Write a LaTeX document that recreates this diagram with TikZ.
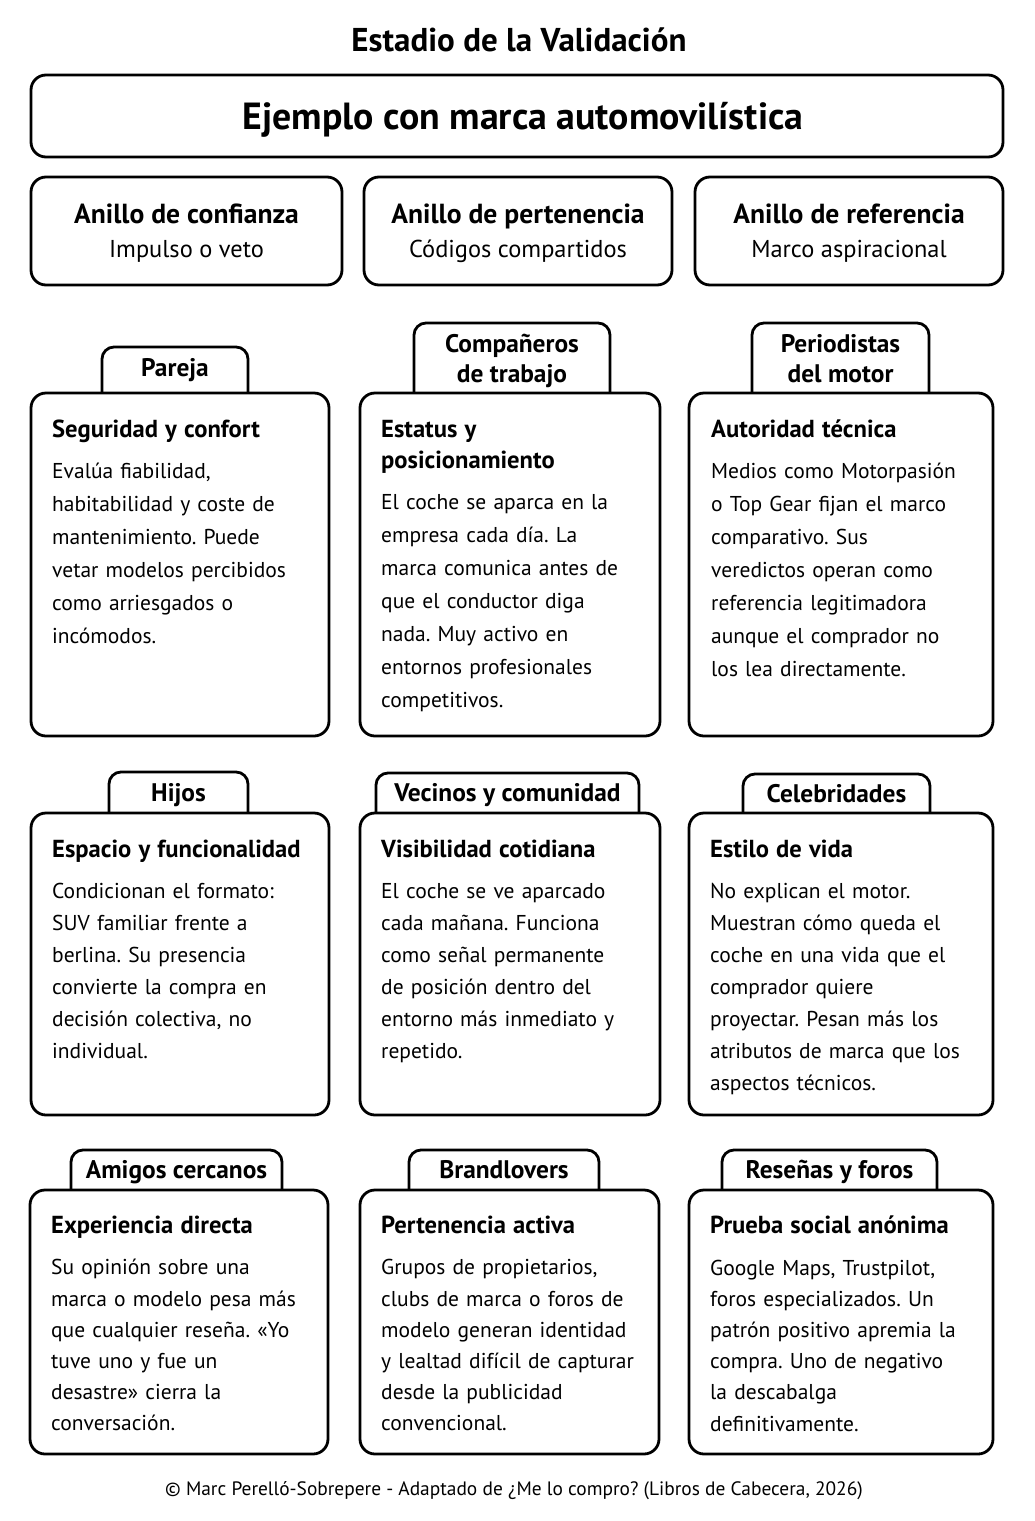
\documentclass[tikz,border=0pt]{standalone}
\usepackage{fontspec}
\setmainfont{PT Sans}
\usetikzlibrary{positioning}
\frenchspacing

\begin{document}
\begin{tikzpicture}[x=1pt, y=-1pt,
box/.style={draw=black, line width=2.8pt, rounded corners=15pt, outer sep=0pt},
ring/.style={box, minimum width=308pt, minimum height=108pt, align=center, text depth=0pt, font=\fontsize{24.4}{34}\selectfont},
card/.style={box, anchor=north west, inner sep=0pt},
tab/.style={anchor=south west, inner sep=0pt, outer sep=0pt, align=center, text height=22pt, text depth=5pt, font=\fontsize{25.4}{30}\selectfont\bfseries},
tabline/.style={line width=2.8pt, rounded corners=12pt},
cardtext/.style={anchor=north west, inner sep=0pt, text width=280pt, align=left, font=\fontsize{21.5}{33}\selectfont}
]
\useasboundingbox (0,0) rectangle (1034,1521);

\node[font=\fontsize{33}{38}\selectfont\bfseries] (title) at (519,40) {Estadio de la Validación};
\node[box, minimum width=972pt, minimum height=82pt] (example) at (517,116) {};
\node[text depth=0pt, font=\fontsize{37.8}{42}\selectfont\bfseries] (exampletxt) at ([xshift=6pt]example.center) {Ejemplo con marca automovilística};

% anillos
\node[ring, minimum width=311pt] (trust) at (186.5,231) {{\fontsize{27.6}{34}\selectfont\bfseries Anillo de confianza}\\Impulso o veto};
\node[ring] (belong) at (518,231) {{\fontsize{27.6}{34}\selectfont\bfseries Anillo de pertenencia}\\Códigos compartidos};
\node[ring] (refer) at (849,231) {{\fontsize{27.6}{34}\selectfont\bfseries Anillo de referencia}\\Marco aspiracional};

% fila 1
\node[card, minimum width=298pt, minimum height=343pt] (pareja) at (31,393) {};
\node[card, minimum width=300pt, minimum height=343pt] (colegas) at (360,393) {};
\node[card, minimum width=304pt, minimum height=343pt] (prensa) at (689,393) {};

\node[tab, text height=18pt, minimum width=146pt, minimum height=46pt] (parejatab) at ([xshift=71pt]pareja.north west) {Pareja};
\node[tab, text height=53pt, minimum width=196pt, minimum height=70pt] (colegastab) at ([xshift=54pt]colegas.north west) {Compañeros\\de trabajo};
\node[tab, text height=53pt, minimum width=177pt, minimum height=70pt] (prensatab) at ([xshift=63pt]prensa.north west) {Periodistas\\del motor};

\node[cardtext] (parejatxt) at ([shift={(21,27)}]pareja.north west) {{\fontsize{24.6}{31}\selectfont\bfseries Seguridad y confort\par}\vspace{8pt}Evalúa fiabilidad,\\habitabilidad y coste de\\mantenimiento. Puede\\vetar modelos percibidos\\como arriesgados o\\incómodos.};
\node[cardtext] (colegastxt) at ([shift={(21,27)}]colegas.north west) {{\fontsize{24.6}{31}\selectfont\bfseries Estatus y\\posicionamiento\par}\vspace{8pt}El coche se aparca en la\\empresa cada día. La\\marca comunica antes de\\que el conductor diga\\nada. Muy activo en\\entornos profesionales\\competitivos.};
\node[cardtext] (prensatxt) at ([shift={(22,27)}]prensa.north west) {{\fontsize{24.6}{31}\selectfont\bfseries Autoridad técnica\par}\vspace{8pt}Medios como Motorpasión\\o Top Gear fijan el marco\\comparativo. Sus\\veredictos operan como\\referencia legitimadora\\aunque el comprador no\\los lea directamente.};

% fila 2
\node[card, minimum width=298pt, minimum height=302pt] (hijos) at (31,813) {};
\node[card, minimum width=300pt, minimum height=302pt] (vecinos) at (360,813) {};
\node[card, minimum width=304pt, minimum height=302pt] (famosos) at (689,813) {};

\node[tab, minimum width=139pt, minimum height=41pt] (hijostab) at ([xshift=78pt]hijos.north west) {Hijos};
\node[tab, minimum width=263pt, minimum height=40pt] (vecinostab) at ([xshift=16pt]vecinos.north west) {Vecinos y comunidad};
\node[tab, minimum width=187pt, minimum height=39pt] (famosostab) at ([xshift=54pt]famosos.north west) {Celebridades};

\node[cardtext, font=\fontsize{21.5}{32}\selectfont] (hijostxt) at ([shift={(21,27)}]hijos.north west) {{\fontsize{24.6}{31}\selectfont\bfseries Espacio y funcionalidad\par}\vspace{9pt}Condicionan el formato:\\SUV familiar frente a\\berlina. Su presencia\\convierte la compra en\\decisión colectiva, no\\individual.};
\node[cardtext, font=\fontsize{21.5}{32}\selectfont] (vecinostxt) at ([shift={(21,27)}]vecinos.north west) {{\fontsize{24.6}{31}\selectfont\bfseries Visibilidad cotidiana\par}\vspace{9pt}El coche se ve aparcado\\cada mañana. Funciona\\como señal permanente\\de posición dentro del\\entorno más inmediato y\\repetido.};
\node[cardtext, font=\fontsize{21.5}{32}\selectfont] (famosostxt) at ([shift={(21,27)}]famosos.north west) {{\fontsize{24.6}{31}\selectfont\bfseries Estilo de vida\par}\vspace{9pt}No explican el motor.\\Muestran cómo queda el\\coche en una vida que el\\comprador quiere\\proyectar. Pesan más los\\atributos de marca que los\\aspectos técnicos.};

% fila 3
\node[card, minimum width=298pt, minimum height=264pt] (amigos) at (30,1190) {};
\node[card, minimum width=299pt, minimum height=264pt] (fans) at (360,1190) {};
\node[card, minimum width=304pt, minimum height=264pt] (foros) at (689,1190) {};

\node[tab, minimum width=211pt, minimum height=40pt] (amigostab) at ([xshift=41pt]amigos.north west) {Amigos cercanos};
\node[tab, minimum width=190pt, minimum height=40pt] (fanstab) at ([xshift=49pt]fans.north west) {Brandlovers};
\node[tab, minimum width=215pt, minimum height=40pt] (forostab) at ([xshift=33pt]foros.north west) {Reseñas y foros};

\node[cardtext, font=\fontsize{21.5}{31.2}\selectfont] (amigostxt) at ([shift={(21,26)}]amigos.north west) {{\fontsize{24.6}{31}\selectfont\bfseries Experiencia directa\par}\vspace{10pt}Su opinión sobre una\\marca o modelo pesa más\\que cualquier reseña. «Yo\\tuve uno y fue un\\desastre» cierra la\\conversación.};
\node[cardtext, font=\fontsize{21.5}{31.2}\selectfont] (fanstxt) at ([shift={(21,26)}]fans.north west) {{\fontsize{24.6}{31}\selectfont\bfseries Pertenencia activa\par}\vspace{10pt}Grupos de propietarios,\\clubs de marca o foros de\\modelo generan identidad\\y lealtad difícil de capturar\\desde la publicidad\\convencional.};
\node[cardtext, font=\fontsize{21.5}{31.2}\selectfont] (forostxt) at ([shift={(21,26)}]foros.north west) {{\fontsize{24.6}{31}\selectfont\bfseries Prueba social anónima\par}\vspace{10pt}Google Maps, Trustpilot,\\foros especializados. Un\\patrón positivo apremia la\\compra. Uno de negativo\\la descabalga\\definitivamente.};

% pestañas
\foreach \t in {parejatab, colegastab, prensatab, hijostab, vecinostab, famosostab, amigostab, fanstab, forostab}
  \draw[tabline] (\t.south west) -- (\t.north west) -- (\t.north east) -- (\t.south east);

\node[font=\fontsize{19.4}{24}\selectfont] (credit) at (514,1491) {© Marc Perelló-Sobrepere - Adaptado de ¿Me lo compro? (Libros de Cabecera, 2026)};
\end{tikzpicture}
\end{document}
